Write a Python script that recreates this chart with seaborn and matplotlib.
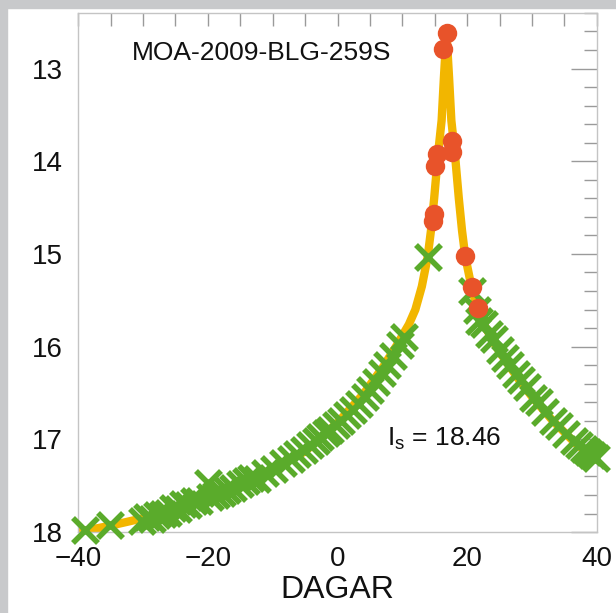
import seaborn as sns
import matplotlib.pyplot as plt
import pandas as pd
from matplotlib.patches import Rectangle
from matplotlib.ticker import MultipleLocator, NullFormatter

# model light curve
curve_x = [-40, -35, -30, -25, -20, -15, -10, -5, 0, 4, 7, 9, 11, 12, 13,
           13.9, 14.4, 14.9, 15.5, 16.05, 16.4, 16.8, 17.2, 17.55, 18.1,
           18.7, 19.2, 19.7, 20.7, 21.5, 22.3, 23.8, 25, 27.8, 30.1, 33.2,
           36.8, 40]
curve_mag = [18.00, 17.93, 17.85, 17.75, 17.62, 17.48, 17.32, 17.13, 16.82,
             16.51, 16.22, 16.00, 15.76, 15.60, 15.35, 15.03, 14.75, 14.40,
             13.92, 13.56, 13.10, 12.62, 13.10, 13.56, 13.92, 14.40, 14.75,
             15.03, 15.37, 15.58, 15.72, 15.92, 16.06, 16.34, 16.55, 16.80,
             17.05, 17.22]

# survey points (green crosses)
cross_x = [-38.9, -35.1, -30.2, -29.4, -28.6, -27.8, -27.0, -26.2, -25.4,
           -24.6, -23.8, -23.0, -22.2, -21.4, -20.0, -19.6, -18.8, -17.8,
           -17.0, -16.2, -15.0, -14.2, -13.4, -12.4, -11.2, -9.8, -8.4, -7.2,
           -6.3, -5.2, -4.3, -3.4, -2.7, -1.8, -1.2, -0.2, 0.6, 1.5, 2.4, 3.3,
           4.2, 5.0, 5.9, 6.8, 7.6, 8.6, 9.6, 10.2, 13.9,
           20.8, 21.5, 21.8, 22.6, 23.3, 24.1, 25.0, 25.8, 26.6, 27.5, 28.3,
           29.2, 30.1, 31.0, 32.0, 33.2, 34.2, 35.3, 36.5, 37.3, 38.0, 38.7,
           39.3, 39.9]
cross_mag = [17.98, 17.92, 17.88, 17.84, 17.86, 17.82, 17.80, 17.79, 17.74,
             17.75, 17.70, 17.71, 17.67, 17.66, 17.47, 17.62, 17.60, 17.58,
             17.55, 17.52, 17.48, 17.45, 17.42, 17.43, 17.36, 17.32, 17.25,
             17.21, 17.16, 17.12, 17.06, 17.02, 16.97, 16.93, 16.90, 16.84,
             16.80, 16.74, 16.68, 16.62, 16.54, 16.47, 16.38, 16.28, 16.20,
             16.10, 15.98, 15.90, 15.03,
             15.40, 15.60, 15.72, 15.76, 15.86, 15.92, 16.04, 16.12, 16.20,
             16.30, 16.36, 16.44, 16.55, 16.60, 16.70, 16.80, 16.86, 16.94,
             17.02, 17.06, 17.10, 17.14, 17.17, 17.20]

# follow-up points near the peak (orange dots)
dot_x = [16.9, 16.3, 17.6, 17.7, 15.3, 15.0, 14.8, 14.7, 19.7, 20.8, 21.6]
dot_mag = [12.62, 12.79, 13.78, 13.90, 13.92, 14.05, 14.57, 14.65, 15.02,
           15.36, 15.58]

curve = pd.DataFrame({'DAGAR': curve_x, 'mag': curve_mag})
crosses = pd.DataFrame({'DAGAR': cross_x, 'mag': cross_mag})
dots = pd.DataFrame({'DAGAR': dot_x, 'mag': dot_mag})

sns.set_style("white")
plt.rcParams['font.family'] = ['Liberation Sans', 'DejaVu Sans']
plt.rcParams['xtick.labelsize'] = 20
plt.rcParams['ytick.labelsize'] = 20

fig, ax = plt.subplots(figsize=(6.16, 6.13), dpi=100)
fig.subplots_adjust(left=0.127, right=0.969, top=0.979, bottom=0.132)

# grey frame round the picture
fig.patches.append(Rectangle((0, 0), 7 / 616, 1, transform=fig.transFigure,
                             color='#c8c9cb', zorder=-1))
fig.patches.append(Rectangle((0, 1 - 8 / 613), 1, 8 / 613,
                             transform=fig.transFigure, color='#c8c9cb',
                             zorder=-1))

sns.lineplot(data=curve, x='DAGAR', y='mag', sort=False, color='#f2b600',
             linewidth=6, ax=ax, zorder=2)
sns.scatterplot(data=crosses, x='DAGAR', y='mag', marker='x', s=18 ** 2,
                linewidth=4, color='#5aab2b', ax=ax, zorder=3, clip_on=False)
sns.scatterplot(data=dots, x='DAGAR', y='mag', marker='o', s=14 ** 2,
                linewidth=0, color='#e8532a', ax=ax, zorder=4, clip_on=False)

ax.set_xlim(-40, 40)
ax.set_ylim(18.0, 12.4)

ax.xaxis.set_major_locator(MultipleLocator(20))
ax.xaxis.set_minor_locator(MultipleLocator(5))
ax.yaxis.set_major_locator(MultipleLocator(1))
ax.yaxis.set_minor_locator(MultipleLocator(0.2))
ax.tick_params(which='major', direction='in', length=19, width=1,
               color='#9a9a9a', labelsize=20, labelcolor='#111111',
               right=True, top=False)
ax.tick_params(axis='y', which='major', pad=11)
ax.tick_params(axis='x', which='major', pad=10)
ax.tick_params(which='minor', direction='in', length=9.5, width=1,
               color='#9a9a9a', right=True, top=False)

# top edge: short ticks every 5 days
top = ax.secondary_xaxis('top')
top.xaxis.set_major_locator(MultipleLocator(5))
top.xaxis.set_major_formatter(NullFormatter())
top.tick_params(direction='in', length=9.5, width=1, color='#9a9a9a')
top.spines['top'].set_visible(False)

for side in ax.spines.values():
    side.set_color('#c4c4c4')
    side.set_linewidth(1)

ax.set_xlabel('DAGAR', fontsize=23, color='#111111', labelpad=2)
ax.set_ylabel('')

ax.text(-31.8, 12.83, 'MOA-2009-BLG-259S', fontsize=19, color='#111111',
        ha='left', va='center')
ax.text(7.6, 16.99, r'I$_\mathregular{s}$ = 18.46', fontsize=19,
        color='#111111', ha='left', va='center')

plt.savefig('out.png', dpi=100)
plt.close()
